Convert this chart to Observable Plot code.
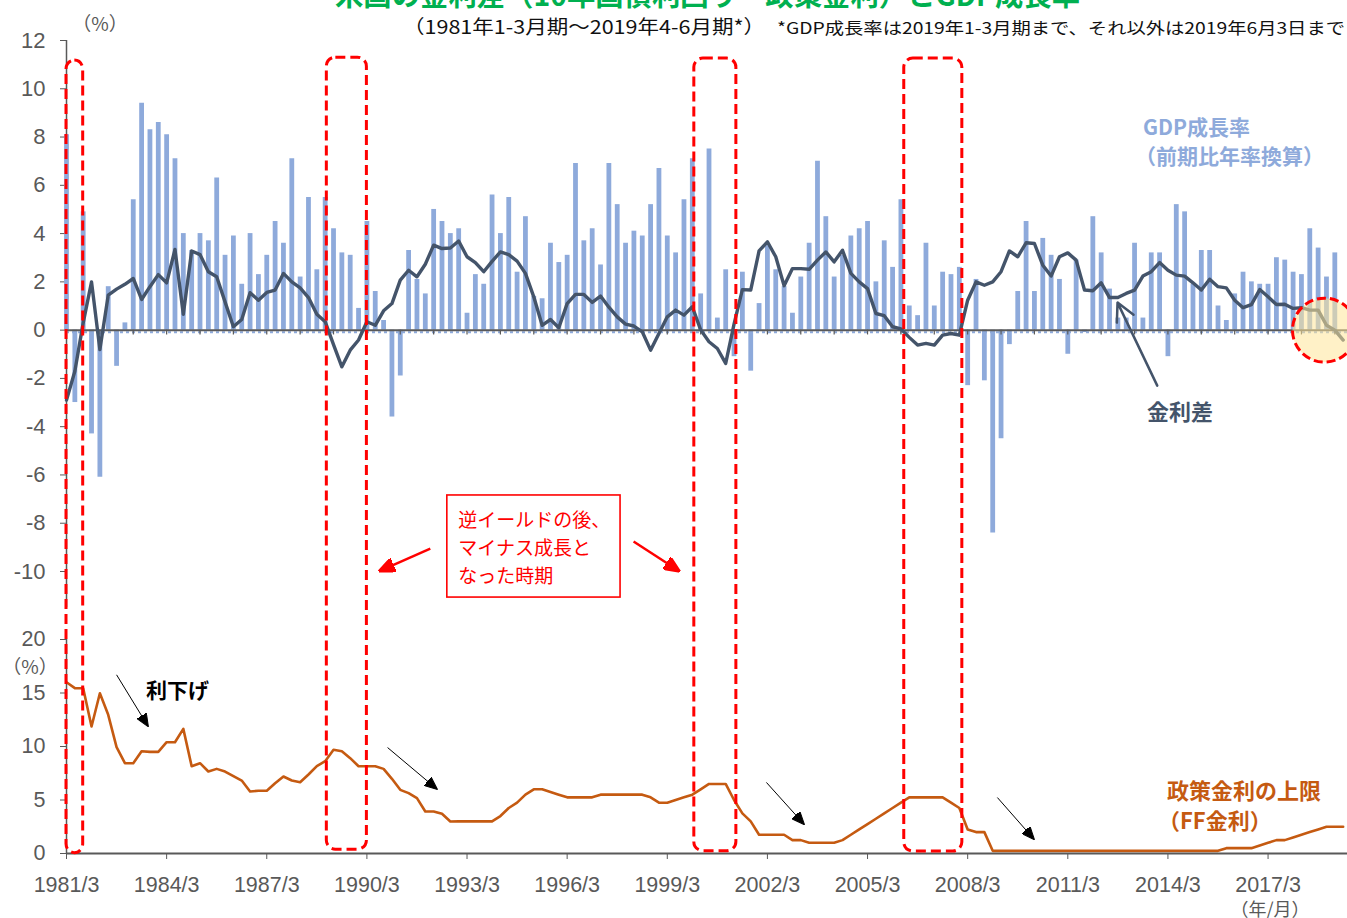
<!DOCTYPE html>
<html><head><meta charset="utf-8">
<script src="https://cdn.jsdelivr.net/npm/d3@7"></script>
<script src="https://cdn.jsdelivr.net/npm/@observablehq/plot@0.6"></script>
<style>
html,body{margin:0;padding:0;background:#fff;overflow:hidden}
#wrap{position:relative;width:1347px;height:918px;overflow:hidden;background:#fff}
#wrap svg{position:absolute;left:0;top:0}
.lbl{position:absolute;white-space:pre;line-height:1;transform-origin:0 50%}
</style></head><body><div id="wrap"></div>
<script>
// ---------- data (quarterly, starting 1981 Jan-Mar) ----------
const firstYear = 1981;
// US real GDP growth, q/q annualised (%), 1981Q1 - 2019Q1
const gdpGrowth = [
  8.1, -3.0, 4.9, -4.3,   -6.1, 1.8, -1.5, 0.3,   5.4, 9.4, 8.3, 8.6,   8.1, 7.1, 4.0, 3.3,
  4.0, 3.7, 6.3, 3.1,     3.9, 1.9, 4.0, 2.3,     3.1, 4.5, 3.6, 7.1,   2.2, 5.5, 2.5, 5.5,
  4.2, 3.2, 3.1, 0.9,     4.5, 1.6, 0.4, -3.6,    -1.9, 3.3, 2.1, 1.5,  5.0, 4.5, 4.0, 4.2,
  0.7, 2.3, 1.9, 5.6,     4.0, 5.5, 2.4, 4.7,     1.4, 1.3, 3.6, 2.8,   3.1, 6.9, 3.7, 4.2,
  2.7, 6.9, 5.2, 3.6,     4.1, 3.9, 5.2, 6.7,     3.9, 3.2, 5.4, 7.1,   1.5, 7.5, 0.5, 2.5,
  -1.1, 2.4, -1.7, 1.1,   3.5, 2.5, 1.8, 0.7,     2.2, 3.6, 7.0, 4.7,   2.2, 3.1, 3.9, 4.2,
  4.5, 2.0, 3.7, 2.6,     5.4, 1.0, 0.6, 3.6,     1.0, 2.4, 2.3, 2.6,   -2.3, 2.1, -2.1, -8.4,
  -4.5, -0.6, 1.6, 4.5,   1.6, 3.8, 3.1, 2.1,     -1.0, 2.9, -0.1, 4.7, 3.2, 1.7, 0.5, 0.5,
  3.6, 0.5, 3.2, 3.2,     -1.1, 5.2, 4.9, 1.9,    3.3, 3.3, 1.0, 0.4,   1.5, 2.4, 2.0, 1.9,
  1.9, 3.0, 2.9, 2.4,     2.3, 4.2, 3.4, 2.2,     3.2
];
// 10y yield minus policy rate (%), 1981Q1 - 2019Q2
const yieldSpread = [
  -2.9, -1.7, 0.3, 2.0,   -0.8, 1.45, 1.7, 1.9,   2.14, 1.27, 1.8, 2.3,   1.96, 3.34, 0.66, 3.28,
  3.13, 2.42, 2.21, 1.17, 0.14, 0.44, 1.55, 1.24, 1.56, 1.66, 2.35, 2.0,  1.75, 1.35, 0.66, 0.35,
  -0.6, -1.52, -0.83, -0.41, 0.35, 0.2, 0.8, 1.1, 2.07, 2.48, 2.21, 2.73, 3.52, 3.38, 3.4, 3.69,
  3.04, 2.8, 2.42, 2.85,  3.24, 3.13, 2.86, 2.35, 1.38, 0.2, 0.44, 0.1,   1.1, 1.48, 1.48, 1.15,
  1.41, 0.95, 0.55, 0.25, 0.17, -0.07, -0.83, -0.14, 0.55, 0.83, 0.62, 0.97, 0.01, -0.48, -0.76, -1.38,
  0.25, 1.68, 1.66, 3.28, 3.66, 3.04, 1.84, 2.55, 2.55, 2.52, 2.9, 3.24,  2.83, 3.31, 2.35, 2.0,
  1.72, 0.69, 0.6, 0.14,  0.05, -0.3, -0.62, -0.55, -0.62, -0.21, -0.14, -0.21, 1.24, 2.0, 1.86, 2.0,
  2.42, 3.28, 3.04, 3.62, 3.59, 2.69, 2.24, 3.04, 3.2, 2.9, 1.66, 1.63,   1.96, 1.35, 1.35, 1.52,
  1.66, 2.24, 2.42, 2.8,  2.48, 2.28, 2.24, 1.96, 1.66, 2.11, 1.8, 1.75,  1.24, 0.93, 1.06, 1.68,
  1.38, 1.06, 1.07, 0.9,  0.93, 0.83, 0.83, 0.2,  0.0, -0.41
];
// policy rate upper bound (FF rate, %), 1981Q1 - 2019Q2
const ffUpper = [
  16.0, 15.45, 15.45, 11.87, 14.98, 12.96, 9.94, 8.44, 8.44, 9.56, 9.5, 9.5, 10.4, 10.4, 11.65, 8.16,
  8.44, 7.66, 7.91, 7.66,  7.23, 6.82, 5.79, 5.87,  5.87, 6.57, 7.2, 6.82,  6.66, 7.38, 8.16, 8.63,
  9.69, 9.56, 8.91, 8.16,  8.16, 8.16, 7.91, 6.98,  5.95, 5.64, 5.17, 3.93,  3.93, 3.71, 2.99, 3.0,
  3.0, 3.0, 3.0, 3.0,      3.5, 4.25, 4.75, 5.5,    6.0, 6.0, 5.75, 5.5,     5.25, 5.25, 5.25, 5.25,
  5.5, 5.5, 5.5, 5.5,      5.5, 5.5, 5.25, 4.75,    4.75, 5.0, 5.25, 5.5,    6.0, 6.5, 6.5, 6.5,
  5.0, 3.75, 3.0, 1.75,    1.75, 1.75, 1.75, 1.25,  1.25, 1.0, 1.0, 1.0,     1.0, 1.25, 1.75, 2.25,
  2.75, 3.25, 3.75, 4.25,  4.75, 5.25, 5.25, 5.25,  5.25, 5.25, 4.75, 4.25,  2.25, 2.0, 2.0, 0.25,
  0.25, 0.25, 0.25, 0.25,  0.25, 0.25, 0.25, 0.25,  0.25, 0.25, 0.25, 0.25,  0.25, 0.25, 0.25, 0.25,
  0.25, 0.25, 0.25, 0.25,  0.25, 0.25, 0.25, 0.25,  0.25, 0.25, 0.25, 0.5,   0.5, 0.5, 0.5, 0.75,
  1.0, 1.25, 1.25, 1.5,    1.75, 2.0, 2.25, 2.5,    2.5, 2.5
];
const xTickYears = [1981, 1984, 1987, 1990, 1993, 1996, 1999, 2002, 2005, 2008, 2011, 2014, 2017];
const topTicks = [-10, -8, -6, -4, -2, 0, 2, 4, 6, 8, 10, 12];
const bottomTicks = [0, 5, 10, 15, 20];
// periods (inverted yield followed by negative growth), in years
const periodStart = [1981.0, 1988.8, 1999.81, 2006.1];
const periodEnd   = [1981.5, 1990.0, 2001.07, 2007.84];

// ---------- annotation anchors (data units) ----------
const periodTopPct = [11.17, 11.29, 11.25, 11.25];   // top-panel %
const periodBottomFF = [0.03, 0.36, 0.22, 0.19];     // bottom-panel %
const cutArrows = [
  {t1: 1982.5, v1: 16.7, t2: 1983.43, v2: 11.96},
  {t1: 1990.62, v1: 9.9, t2: 1992.08, v2: 6.07},
  {t1: 2001.97, v1: 6.64, t2: 2003.08, v2: 2.8},
  {t1: 2008.89, v1: 5.23, t2: 2009.97, v2: 1.4}
];
const redArrows = [
  {t1: 1991.9, v1: -9.05, t2: 1990.41, v2: -9.96},
  {t1: 1997.99, v1: -8.76, t2: 1999.33, v2: -9.96}
];
const spreadArrow = [{t1: 2013.68, v1: -2.3, t2: 2012.49, v2: 1.14}];
const noteBox = [{t1: 1992.41, t2: 1997.6, v1: -11.08, v2: -6.85}];
const noteLines = [
  {t: 1992.74, v: -7.89, s: "逆イールドの後、"},
  {t: 1992.74, v: -9.05, s: "マイナス成長と"},
  {t: 1992.74, v: -10.21, s: "なった時期"}
];
const latestCircle = [{t: 2018.69, v: 0.0}];

// ---------- build ----------
const W = 1347, H = 918, xEnd = 2019.38;
const JP = "'Noto Sans CJK JP','Noto Sans',sans-serif";
const NUM = "'Liberation Sans',Arial,'Noto Sans CJK JP',sans-serif";
const gray = "#595959";
const q = (arr) => arr.map((v, i) => ({t: firstYear + i / 4, v}));
const gdpRows = q(gdpGrowth), spreadRows = q(yieldSpread), ffRows = q(ffUpper);
const periods = periodStart.map((s, i) => ({s, e: periodEnd[i], top: periodTopPct[i], bff: periodBottomFF[i]}));

function headMarker(len, wid) {
  return (color) => {
    const ns = "http://www.w3.org/2000/svg";
    const m = document.createElementNS(ns, "marker");
    m.setAttribute("viewBox", `${-len} ${-wid / 2} ${len} ${wid}`);
    m.setAttribute("markerUnits", "userSpaceOnUse");
    m.setAttribute("markerWidth", len);
    m.setAttribute("markerHeight", wid);
    m.setAttribute("refX", -len * 0.12);
    m.setAttribute("refY", 0);
    m.setAttribute("orient", "auto");
    const p = document.createElementNS(ns, "path");
    p.setAttribute("d", `M${-len},${-wid / 2}L0,0L${-len},${wid / 2}Z`);
    p.setAttribute("fill", color);
    m.appendChild(p);
    return m;
  };
}
function safeMarker(fn) {
  try { Plot.link([], {x1: 0, y1: 0, x2: 1, y2: 1, markerEnd: fn}); return fn; } catch (e) { return "arrow"; }
}
const blackHead = safeMarker(headMarker(13, 11));
const redHead = safeMarker(headMarker(16, 14));

const wrap = document.getElementById("wrap");
function styleSvg(svg) {
  svg.style.position = "absolute"; svg.style.left = "0px"; svg.style.top = "0px";
  svg.style.background = "transparent"; svg.style.overflow = "visible";
  svg.style.maxWidth = "none";
  return svg;
}
const baseStyle = (size) => ({background: "transparent", overflow: "visible", fontSize: size + "px", fontFamily: NUM, color: gray});

// bottom panel
const B = Plot.plot({
  width: W, height: H, marginLeft: 66, marginRight: 0, marginTop: 639, marginBottom: 65,
  x: {domain: [firstYear, xEnd], ticks: xTickYears, tickFormat: d => `${d}/3`, tickSize: 6, tickPadding: 17, label: null},
  y: {domain: [0, 20], ticks: bottomTicks, tickFormat: d => String(d), tickSize: 6, tickPadding: 15, label: null},
  style: baseStyle(21.5),
  marks: [
    Plot.ruleX([firstYear], {y1: 0, y2: 20, stroke: gray, strokeWidth: 1.5}),
    Plot.line(ffRows, {x: "t", y: "v", stroke: "#C55A11", strokeWidth: 2.6, strokeLinejoin: "round"}),
    Plot.ruleY([0], {stroke: gray, strokeWidth: 2}),
    Plot.link(cutArrows, {x1: "t1", y1: "v1", x2: "t2", y2: "v2", stroke: "#000", strokeWidth: 1, markerEnd: blackHead})
  ]
});
wrap.appendChild(styleSvg(B));

const yB = B.scale("y");
function makeA(extra) {
  return Plot.plot({
    width: W, height: H, marginLeft: 66, marginRight: 0, marginTop: 40, marginBottom: H - 607.2,
    x: {domain: [firstYear, xEnd], axis: null},
    y: {domain: [-11.5, 12], ticks: topTicks, tickFormat: d => String(d), tickSize: 6, tickPadding: 15, label: null},
    style: baseStyle(22),
    marks: [
      Plot.ruleX([firstYear], {y1: -11.5, y2: 12, stroke: gray, strokeWidth: 1.5}),
      Plot.ruleX(gdpRows, {x: "t", y1: 0, y2: "v", stroke: "#8EAADB", strokeWidth: 4.8}),
      Plot.ruleY([0], {stroke: "#8EAADB", strokeWidth: 2, strokeDasharray: "3,3", dy: 2}),
      Plot.ruleY([0], {stroke: gray, strokeWidth: 2}),
      Plot.ruleX(d3.range(1982, 2020), {x: d => d, y1: 0, y2: -0.2, stroke: gray, strokeWidth: 1.2}),
      Plot.line(spreadRows, {x: "t", y: "v", stroke: "#44546A", strokeWidth: 3.4, strokeLinejoin: "round"}),
      ...extra
    ]
  });
}
const yA0 = makeA([]).scale("y");
const toTop = (ff) => yA0.invert(yB.apply(ff));
const periodRows = periods.map(p => ({...p, bottom: toTop(p.bff)}));

const A = makeA([
  Plot.dot(latestCircle, {x: "t", y: "v", r: 32, fill: "#FFE699", fillOpacity: 0.55, stroke: "#FF0000", strokeWidth: 3, strokeDasharray: "9,4"}),
  Plot.rect(periodRows, {x1: "s", x2: "e", y1: "bottom", y2: "top", fill: "none", stroke: "#FF0000", strokeWidth: 3, strokeDasharray: "10,5", rx: 9}),
  Plot.rect(noteBox, {x1: "t1", x2: "t2", y1: "v1", y2: "v2", fill: "white", stroke: "#FF0000", strokeWidth: 1.6}),
  Plot.text(noteLines, {x: "t", y: "v", text: "s", textAnchor: "start", lineAnchor: "middle", fill: "#FF0000", fontSize: 19, fontFamily: JP}),
  Plot.link(redArrows, {x1: "t1", y1: "v1", x2: "t2", y2: "v2", stroke: "#FF0000", strokeWidth: 2.5, markerEnd: redHead}),
  Plot.arrow(spreadArrow, {x1: "t1", y1: "v1", x2: "t2", y2: "v2", stroke: "#44546A", strokeWidth: 2.5, headLength: 12, headAngle: 55})
]);
wrap.appendChild(styleSvg(A));

// ---------- html text ----------
function label(text, o) {
  const d = document.createElement("div");
  d.className = "lbl";
  d.textContent = text;
  d.style.fontSize = o.size + "px";
  d.style.fontFamily = o.family || JP;
  d.style.fontWeight = o.weight || 400;
  d.style.color = o.color || "#000";
  if (o.lh) d.style.lineHeight = o.lh;
  wrap.appendChild(d);
  const r = d.getBoundingClientRect();
  const sx = o.width ? o.width / r.width : 1;
  const w = r.width * sx;
  let left = o.x;
  if (o.anchor === "middle") left = o.x - w / 2;
  else if (o.anchor === "end") left = o.x - w;
  d.style.left = left + "px";
  d.style.top = (o.y - r.height / 2) + "px";
  if (sx !== 1) d.style.transform = `scaleX(${sx})`;
}
label("米国の金利差（10年国債利回り－政策金利）とGDP成長率", {x: 707, y: -6.5, size: 29, weight: 700, color: "#00B050", anchor: "middle", width: 745});
label("（1981年1-3月期～2019年4-6月期*）", {x: 403, y: 25, size: 19, width: 362, color: "#111"});
label("*GDP成長率は2019年1-3月期まで、それ以外は2019年6月3日まで", {x: 777, y: 27, size: 16, width: 568, color: "#111"});
label("（%）", {x: 100, y: 22, size: 19, color: gray, anchor: "middle"});
label("（%）", {x: 30, y: 665, size: 19, color: gray, anchor: "middle"});
label("（年/月）", {x: 1270, y: 908, size: 18, color: gray, anchor: "middle", lh: "0.8"});
label("GDP成長率", {x: 1143, y: 126, size: 21, weight: 700, color: "#8EAADB"});
label("（前期比年率換算）", {x: 1135, y: 155, size: 21, weight: 700, color: "#8EAADB"});
label("金利差", {x: 1180, y: 410, size: 22, weight: 700, color: "#44546A", anchor: "middle"});
label("政策金利の上限", {x: 1167, y: 789, size: 22, weight: 700, color: "#C55A11"});
label("（FF金利）", {x: 1158, y: 819, size: 22, weight: 700, color: "#C55A11"});
label("利下げ", {x: 146, y: 689, size: 21, weight: 700, color: "#000"});
</script></body></html>
